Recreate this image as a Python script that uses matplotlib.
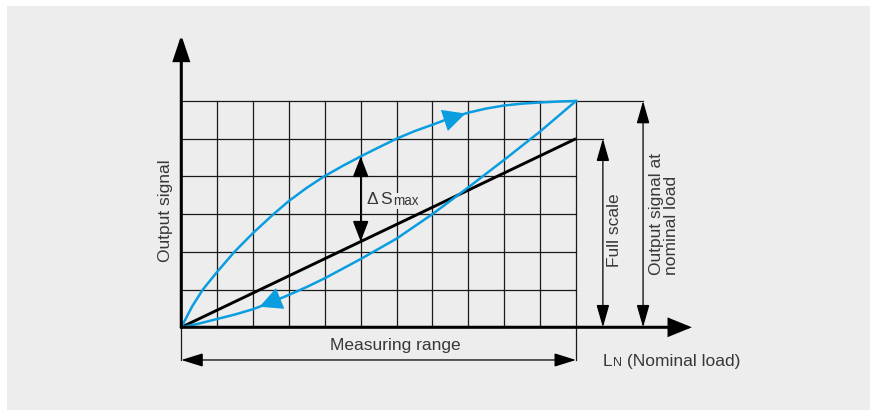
import numpy as np
import matplotlib.pyplot as plt
from matplotlib.patches import Rectangle

# grid: 11 columns (load) x 6 rows (signal)
n_cols = 11
n_rows = 6

# rising branch of the hysteresis loop
up_x = [0, 0.3, 0.6, 1, 1.48, 2, 2.57, 3, 3.5, 3.98, 4.5, 5, 5.46, 6,
        6.5, 7, 7.5, 8, 8.5, 9, 9.5, 10, 10.5, 11]
up_y = [0, 0.55, 1.0, 1.47, 2.0, 2.5, 3.0, 3.35, 3.7, 4.0, 4.28, 4.53, 4.75, 5.0,
        5.2, 5.37, 5.55, 5.69, 5.8, 5.88, 5.93, 5.96, 5.985, 6.0]

# falling branch
down_x = [0, 0.5, 1, 1.5, 2, 2.5, 3, 3.5, 4, 5, 6, 7, 8, 9, 10, 11]
down_y = [0, 0.1, 0.22, 0.34, 0.48, 0.66, 0.86, 1.07, 1.30, 1.81, 2.35, 3.0,
          3.71, 4.44, 5.19, 6.0]

# ideal characteristic (full scale)
line_x = [0, 11]
line_y = [0, 5]

full_scale = 5
nominal = 6
ds_at = 5          # where delta S max is measured
up_arrow_x = 7.92  # arrow heads on the blue curves
down_arrow_x = 2.18

BLUE = '#0a9de0'
BG = '#ededed'
TXT = '#383838'

plt.rcParams['font.family'] = ['Liberation Sans', 'DejaVu Sans']

fig = plt.figure(figsize=(8.77, 4.16), dpi=100, facecolor='white')
fig.patches.append(Rectangle((7 / 877, 1 - 410 / 416), 863 / 877, 404 / 416,
                             transform=fig.transFigure, facecolor=BG,
                             edgecolor='none', zorder=-10))
ax = fig.add_axes([0, 0, 1, 1])
ax.set_xlim(-5.053, 19.39)
ax.set_ylim(-2.352, 8.677)
ax.axis('off')
ax.patch.set_alpha(0)

grid_kw = dict(color='#1a1a1a', lw=0.9, zorder=1)
for i in range(1, n_cols + 1):
    ax.plot([i, i], [0, n_rows], **grid_kw)
for j in range(1, n_rows + 1):
    ax.plot([0, n_cols], [j, j], **grid_kw)

# extension lines for the dimensions
fs_x = 11.75
nom_x = 12.87
mr_y = -0.867
ax.plot([n_cols, nom_x], [nominal, nominal], **grid_kw)
ax.plot([n_cols, fs_x], [full_scale, full_scale], **grid_kw)
ax.plot([0, 0], [0, mr_y], **grid_kw)
ax.plot([n_cols, n_cols], [0, mr_y], **grid_kw)


def arrow(p0, p1, style, lw=0.9, color='black', z=5):
    ax.annotate('', xy=p1, xytext=p0,
                arrowprops=dict(arrowstyle=style, color=color, lw=lw,
                                shrinkA=0, shrinkB=0, joinstyle='miter'),
                zorder=z)


# axes
arrow((0, 0), (0, 7.75), '-|>,head_length=1.5,head_width=0.5', lw=2.2)
arrow((0, 0), (14.23, 0), '-|>,head_length=1.35,head_width=0.55', lw=2.2)

# dimension arrows
arrow((fs_x, 0), (fs_x, full_scale), '<|-|>,head_length=1.4,head_width=0.4')
arrow((nom_x, 0), (nom_x, nominal), '<|-|>,head_length=1.4,head_width=0.4')
arrow((0, mr_y), (n_cols, mr_y), '<|-|>,head_length=1.35,head_width=0.42')

# ideal line and curves
ax.plot(line_x, line_y, color='black', lw=2.1, zorder=3, solid_capstyle='butt')
ax.plot(up_x, up_y, color=BLUE, lw=1.8, zorder=4, solid_joinstyle='round')
ax.plot(down_x, down_y, color=BLUE, lw=1.8, zorder=4, solid_joinstyle='round')

# delta S max
ds_top = np.interp(ds_at, up_x, up_y)
ds_bot = np.interp(ds_at, line_x, line_y)
arrow((ds_at, ds_bot), (ds_at, ds_top), '<|-|>,head_length=1.3,head_width=0.5', lw=1.0)

# arrow heads on the loop
head = '-|>,head_length=1.6,head_width=0.8'
tip = (up_arrow_x, np.interp(up_arrow_x, up_x, up_y))
back = (up_arrow_x - 0.7, np.interp(up_arrow_x - 0.7, up_x, up_y))
ax.annotate('', xy=tip, xytext=back,
            arrowprops=dict(arrowstyle=head, color=BLUE, lw=0, shrinkA=0, shrinkB=0),
            zorder=6)
tip = (down_arrow_x, np.interp(down_arrow_x, down_x, down_y))
back = (down_arrow_x + 0.7, np.interp(down_arrow_x + 0.7, down_x, down_y))
ax.annotate('', xy=tip, xytext=back,
            arrowprops=dict(arrowstyle=head, color=BLUE, lw=0, shrinkA=0, shrinkB=0),
            zorder=6)

# texts
fs = 12.5
ax.text(-0.45, 3.08, 'Output signal', rotation=90, ha='center', va='center',
        fontsize=fs, color=TXT)
ax.text(5.96, -0.47, 'Measuring range', ha='center', va='center',
        fontsize=fs, color=TXT)
ax.text(12.06, 1.6, 'Full scale', rotation=90, ha='center', va='bottom',
        fontsize=fs, color=TXT)
ax.text(13.45, 1.39, 'Output signal at\nnominal load', rotation=90,
        ha='center', va='bottom', multialignment='left', linespacing=1.0,
        fontsize=fs, color=TXT)

lbl_bg = dict(facecolor=BG, edgecolor='none', pad=1.0)
t_d = ax.text(5.17, 3.27, '\u0394', ha='left', va='baseline', fontsize=fs,
              color=TXT, zorder=7, bbox=lbl_bg)
t_s = ax.annotate('S', xy=(1, 0), xycoords=t_d, xytext=(1.5, 0),
                  textcoords='offset points', ha='left', va='bottom',
                  fontsize=fs, color=TXT, zorder=8, bbox=lbl_bg)
ax.annotate('max', xy=(1, 0), xycoords=t_s, xytext=(0.6, -0.8),
            textcoords='offset points', ha='left', va='bottom',
            fontsize=fs * 0.78, color=TXT, zorder=9, bbox=dict(lbl_bg, pad=0.5))

t2 = ax.text(11.75, -1.026, 'L', ha='left', va='baseline', fontsize=fs, color=TXT)
t3 = ax.annotate('N', xy=(1, 0), xycoords=t2, xytext=(0.3, 0),
                 textcoords='offset points', ha='left', va='bottom',
                 fontsize=fs * 0.72, color=TXT)
ax.annotate(' (Nominal load)', xy=(1, 0), xycoords=t3, xytext=(0, 0),
            textcoords='offset points', ha='left', va='bottom',
            fontsize=fs, color=TXT)

fig.savefig('out.png', dpi=100, facecolor='white')
